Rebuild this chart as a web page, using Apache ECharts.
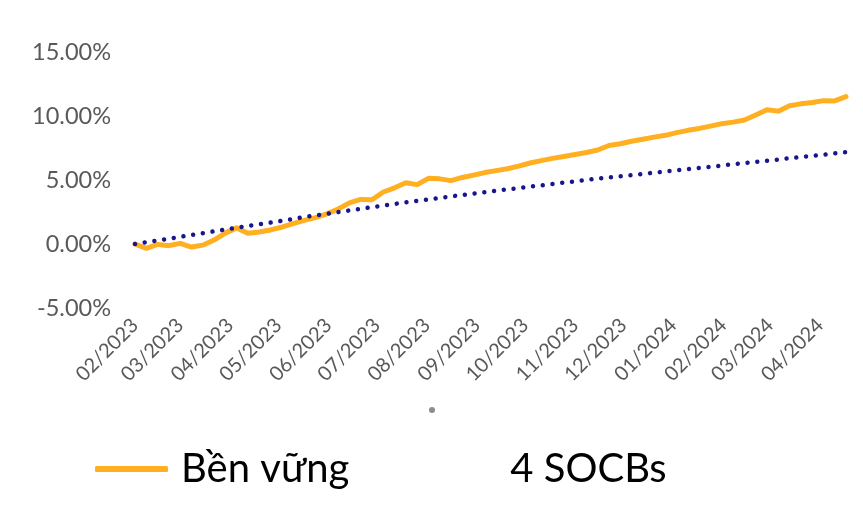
<!DOCTYPE html>
<html>
<head>
<meta charset="utf-8">
<script src="https://cdn.jsdelivr.net/npm/echarts@6/dist/echarts.min.js"></script>
<style>
html,body{margin:0;padding:0;background:#fff;}
#chart{width:863px;height:509px;}
</style>
</head>
<body>
<div id="chart"></div>
<script>
// Weekly observation dates (start date + 64 weekly points)
var startDate = [2023, 1, 1]; // year, monthIndex, day
var weekCount = 64;
var seriesNames = ['Bền vững', '4 SOCBs'];
// Cumulative return (%) - "Bền vững"
var benVung = [0.00, -0.34, -0.03, -0.13, 0.05, -0.24, -0.09, 0.31, 0.85, 1.26,
  0.84, 0.94, 1.10, 1.31, 1.59, 1.85, 2.06, 2.35, 2.73, 3.21,
  3.48, 3.46, 4.06, 4.39, 4.79, 4.64, 5.13, 5.09, 4.95, 5.20,
  5.38, 5.58, 5.73, 5.88, 6.08, 6.33, 6.51, 6.69, 6.84, 6.99,
  7.15, 7.34, 7.70, 7.83, 8.03, 8.19, 8.35, 8.49, 8.70, 8.88,
  9.03, 9.21, 9.40, 9.52, 9.69, 10.08, 10.49, 10.38, 10.80, 10.95,
  11.05, 11.20, 11.18, 11.51];
// Cumulative return (%) - "4 SOCBs"
var socbs = [0.00, 0.14, 0.28, 0.41, 0.56, 0.70, 0.84, 0.99, 1.13, 1.27,
  1.41, 1.54, 1.67, 1.81, 1.95, 2.11, 2.23, 2.36, 2.49, 2.62,
  2.74, 2.88, 3.00, 3.13, 3.25, 3.37, 3.48, 3.60, 3.72, 3.83,
  3.94, 4.05, 4.16, 4.27, 4.37, 4.48, 4.58, 4.69, 4.80, 4.90,
  5.01, 5.10, 5.20, 5.29, 5.38, 5.48, 5.57, 5.66, 5.76, 5.85,
  5.95, 6.04, 6.13, 6.23, 6.32, 6.41, 6.51, 6.60, 6.70, 6.80,
  6.89, 6.98, 7.08, 7.17];
var yMin = -5, yMax = 15, yStep = 5;

var dates = [];
for (var i = 0; i < weekCount; i++) {
  dates.push(new Date(startDate[0], startDate[1], startDate[2] + 7 * i).getTime());
}
function pairs(vals) { return vals.map(function (v, i) { return [dates[i], v]; }); }
function pad(n) { return (n < 10 ? '0' : '') + n; }

var chart = echarts.init(document.getElementById('chart'));
var FONT = 'Lato';
chart.setOption({
  animation: false,
  textStyle: { fontFamily: FONT },
  grid: { left: 135, right: 17, top: 52, bottom: 201, containLabel: false },
  xAxis: {
    type: 'time',
    min: dates[0],
    max: dates[dates.length - 1],
    minInterval: 28 * 86400000,
    maxInterval: 31 * 86400000,
    splitNumber: 15,
    axisLine: { show: false },
    axisTick: { show: false },
    splitLine: { show: false },
    axisLabel: {
      rotate: 45,
      fontFamily: FONT,
      fontSize: 20,
      color: '#595959',
      margin: 14,
      showMaxLabel: false,
      formatter: function (v) {
        var d = new Date(v);
        return pad(d.getMonth() + 1) + '/' + d.getFullYear();
      }
    }
  },
  yAxis: {
    type: 'value',
    min: yMin, max: yMax, interval: yStep,
    axisLine: { show: false },
    axisTick: { show: false },
    splitLine: { show: false },
    axisLabel: {
      fontFamily: FONT,
      fontSize: 23.5,
      color: '#595959',
      margin: 24,
      formatter: function (v) { return v.toFixed(2) + '%'; }
    }
  },
  legend: {
    left: 95,
    top: 449,
    padding: 0,
    icon: 'roundRect',
    itemWidth: 73,
    itemHeight: 6,
    itemGap: 75,
    textStyle: { fontFamily: FONT, fontSize: 40, color: '#000', padding: [0, 0, 0, 8] },
    data: [
      { name: seriesNames[0] },
      { name: seriesNames[1], itemStyle: { opacity: 0 }, lineStyle: { opacity: 0 } }
    ]
  },
  graphic: [{
    type: 'circle', left: 429, top: 407,
    shape: { r: 3 }, style: { fill: '#8c8c8c' }
  }],
  series: [
    {
      name: seriesNames[0], type: 'line', data: pairs(benVung),
      showSymbol: false, symbol: 'none',
      itemStyle: { color: '#FFAF1F' },
      lineStyle: { color: '#FFAF1F', width: 5, join: 'round', cap: 'round' }
    },
    {
      name: seriesNames[1], type: 'line', data: pairs(socbs),
      showSymbol: false, symbol: 'none',
      itemStyle: { color: '#17168C' },
      lineStyle: { color: '#17168C', width: 4.5, type: [0.01, 9.8], cap: 'round' }
    }
  ]
});
</script>
</body>
</html>
